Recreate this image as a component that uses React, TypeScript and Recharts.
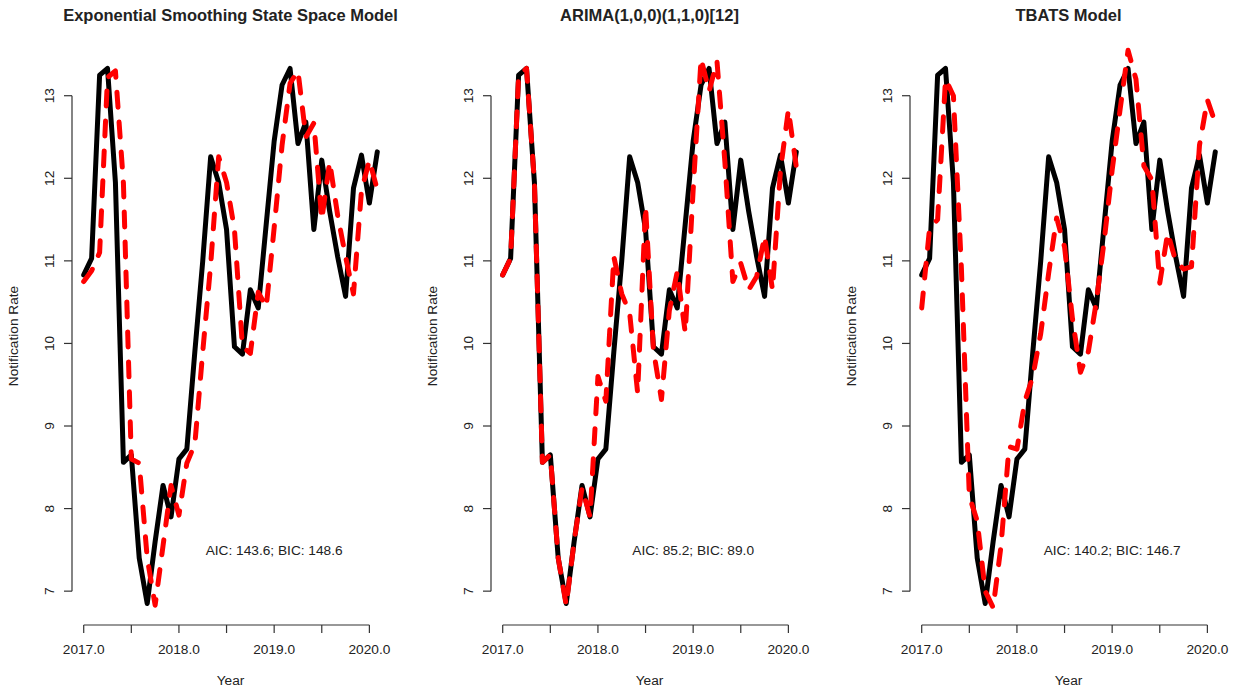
import React from 'react'
import { LineChart, Line, XAxis, YAxis, ReferenceLine, ReferenceDot } from 'recharts'

// monthly time index (decimal years)
const years = [
  2017.0, 2017.083, 2017.167, 2017.25, 2017.333, 2017.417, 2017.5, 2017.583, 2017.667, 2017.75, 2017.833, 2017.917,
  2018.0, 2018.083, 2018.167, 2018.25, 2018.333, 2018.417, 2018.5, 2018.583, 2018.667, 2018.75, 2018.833, 2018.917,
  2019.0, 2019.083, 2019.167, 2019.25, 2019.333, 2019.417, 2019.5, 2019.583, 2019.667, 2019.75, 2019.833, 2019.917,
  2020.0, 2020.083,
]

// observed notification rate (black)
const actual = [
  10.83, 11.03, 13.25, 13.33, 11.95, 8.56, 8.65, 7.4, 6.85, 7.6, 8.28, 7.9,
  8.6, 8.72, 9.9, 11.0, 12.26, 11.95, 11.38, 9.96, 9.87, 10.65, 10.43, 11.45,
  12.45, 13.13, 13.33, 12.42, 12.68, 11.38, 12.22, 11.6, 11.05, 10.57, 11.88, 12.28,
  11.7, 12.32,
]

// fitted values (red dashed)
const etsFit = [
  10.75, 10.88, 11.1, 13.22, 13.3, 11.94, 8.6, 8.55, 7.4, 6.83, 7.55, 8.28,
  7.92, 8.55, 8.78, 9.9, 10.95, 12.26, 11.95, 11.38, 9.96, 9.88, 10.62, 10.44,
  11.4, 12.4, 13.15, 13.3, 12.5, 12.67, 11.5, 12.2, 11.55, 11.05, 10.6, 11.85,
  12.22, 11.86,
]

const arimaFit = [
  10.83, 11.03, 13.25, 13.33, 11.95, 8.56, 8.65, 7.4, 6.83, 7.6, 8.25, 7.9,
  9.6, 9.3, 11.05, 10.6, 10.37, 9.4, 11.66, 9.92, 9.32, 10.4, 10.87, 10.13,
  11.86, 13.45, 13.05, 13.42, 12.2, 10.75, 10.97, 10.65, 10.81, 11.3, 10.65, 12.1,
  12.83, 12.14,
]

const tbatsFit = [
  10.43, 11.4, 11.5, 13.2, 13.0, 10.9, 8.15, 7.85, 7.0, 6.8, 7.55, 8.75,
  8.72, 9.3, 9.6, 10.12, 10.85, 11.52, 11.17, 10.3, 9.65, 9.9, 10.5, 11.25,
  12.1, 12.83, 13.55, 13.2, 12.15, 11.98, 10.73, 11.34, 11.0, 10.9, 10.93, 12.4,
  12.95, 12.67,
]

const panelTitles = ['Exponential Smoothing State Space Model', 'ARIMA(1,0,0)(1,1,0)[12]', 'TBATS Model']
const fitSeries = [etsFit, arimaFit, tbatsFit]
const infoText = ['AIC: 143.6; BIC: 148.6', 'AIC: 85.2; BIC: 89.0', 'AIC: 140.2; BIC: 146.7']

const xTicks = [2017, 2017.5, 2018, 2018.5, 2019, 2019.5, 2020]
const yTicks = [7, 8, 9, 10, 11, 12, 13]

const FONT = '"Liberation Sans", Arial, sans-serif'
const TXT = '#222'
const X_DOMAIN = [2016.877, 2020.206]
const Y_DOMAIN = [6.59, 13.59]

const XTick = (props: any) => {
  const { x, y, payload } = props
  const v = payload.value as number
  if (!Number.isInteger(v)) return <g />
  return (
    <text x={x} y={y + 19} textAnchor="middle" fontSize={13.7} fill={TXT} fontFamily={FONT}>
      {v.toFixed(1)}
    </text>
  )
}

const YTick = (props: any) => {
  const { x, y, payload } = props
  const tx = x - 8
  return (
    <text x={tx} y={y} transform={`rotate(-90, ${tx}, ${y})`} textAnchor="middle" fontSize={13.7} fill={TXT} fontFamily={FONT}>
      {payload.value}
    </text>
  )
}

function Panel({ idx }: { idx: number }) {
  const fitted = fitSeries[idx]
  const data = years.map((t, i) => ({ t, actual: actual[i], fitted: fitted[i] }))
  const left = idx * 419

  return (
    <div style={{ position: 'absolute', left, top: 0, width: 400, height: 692 }}>
      <div
        style={{
          position: 'absolute', left: 72 - 60, top: 5, width: 437, lineHeight: '20px',
          textAlign: 'center', fontFamily: FONT, fontWeight: 'bold', fontSize: 16.5, color: TXT, whiteSpace: 'nowrap',
        }}
      >
        {panelTitles[idx]}
      </div>
      <div
        style={{
          position: 'absolute', left: 72, top: 673, width: 317, lineHeight: '16px',
          textAlign: 'center', fontFamily: FONT, fontSize: 13.7, color: TXT,
        }}
      >
        Year
      </div>
      <div
        style={{
          position: 'absolute', left: 14 - 100, top: 336 - 8, width: 200, lineHeight: '16px',
          textAlign: 'center', fontFamily: FONT, fontSize: 13.7, color: TXT, transform: 'rotate(-90deg)',
        }}
      >
        Notification Rate
      </div>
      <LineChart width={400} height={692} data={data} margin={{ top: 47, right: 11, bottom: 37, left: 12 }}>
        <XAxis
          type="number"
          dataKey="t"
          domain={X_DOMAIN}
          ticks={xTicks}
          tick={XTick}
          tickSize={8}
          axisLine={false}
          tickLine={{ stroke: '#333', strokeWidth: 1.2 }}
          height={30}
          allowDataOverflow
        />
        <YAxis
          type="number"
          domain={Y_DOMAIN}
          ticks={yTicks}
          tick={YTick}
          tickSize={8}
          axisLine={false}
          tickLine={{ stroke: '#333', strokeWidth: 1.2 }}
          width={60}
          allowDataOverflow
        />
        <ReferenceLine segment={[{ x: 2017, y: Y_DOMAIN[0] }, { x: 2020, y: Y_DOMAIN[0] }]} stroke="#333" strokeWidth={1.2} ifOverflow="visible" />
        <ReferenceLine segment={[{ x: X_DOMAIN[0], y: 7 }, { x: X_DOMAIN[0], y: 13 }]} stroke="#333" strokeWidth={1.2} ifOverflow="visible" />
        <Line
          type="linear"
          dataKey="actual"
          stroke="#000"
          strokeWidth={5}
          strokeLinejoin="round"
          strokeLinecap="round"
          dot={false}
          isAnimationActive={false}
        />
        <Line
          type="linear"
          dataKey="fitted"
          stroke="#ff0000"
          strokeWidth={5}
          strokeDasharray="15 15"
          strokeLinejoin="round"
          strokeLinecap="round"
          dot={false}
          isAnimationActive={false}
        />
        <ReferenceDot
          x={2019}
          y={7.5}
          r={0}
          ifOverflow="visible"
          shape={(p: any) => (
            <text x={p.cx} y={p.cy} dy={5} textAnchor="middle" fontSize={13.7} fill={TXT} fontFamily={FONT}>
              {infoText[idx]}
            </text>
          )}
        />
      </LineChart>
    </div>
  )
}

export default function App() {
  return (
    <div style={{ position: 'absolute', left: 0, top: 0, width: 1237, height: 692, background: '#fff', overflow: 'hidden' }}>
      <Panel idx={0} />
      <Panel idx={1} />
      <Panel idx={2} />
    </div>
  )
}
